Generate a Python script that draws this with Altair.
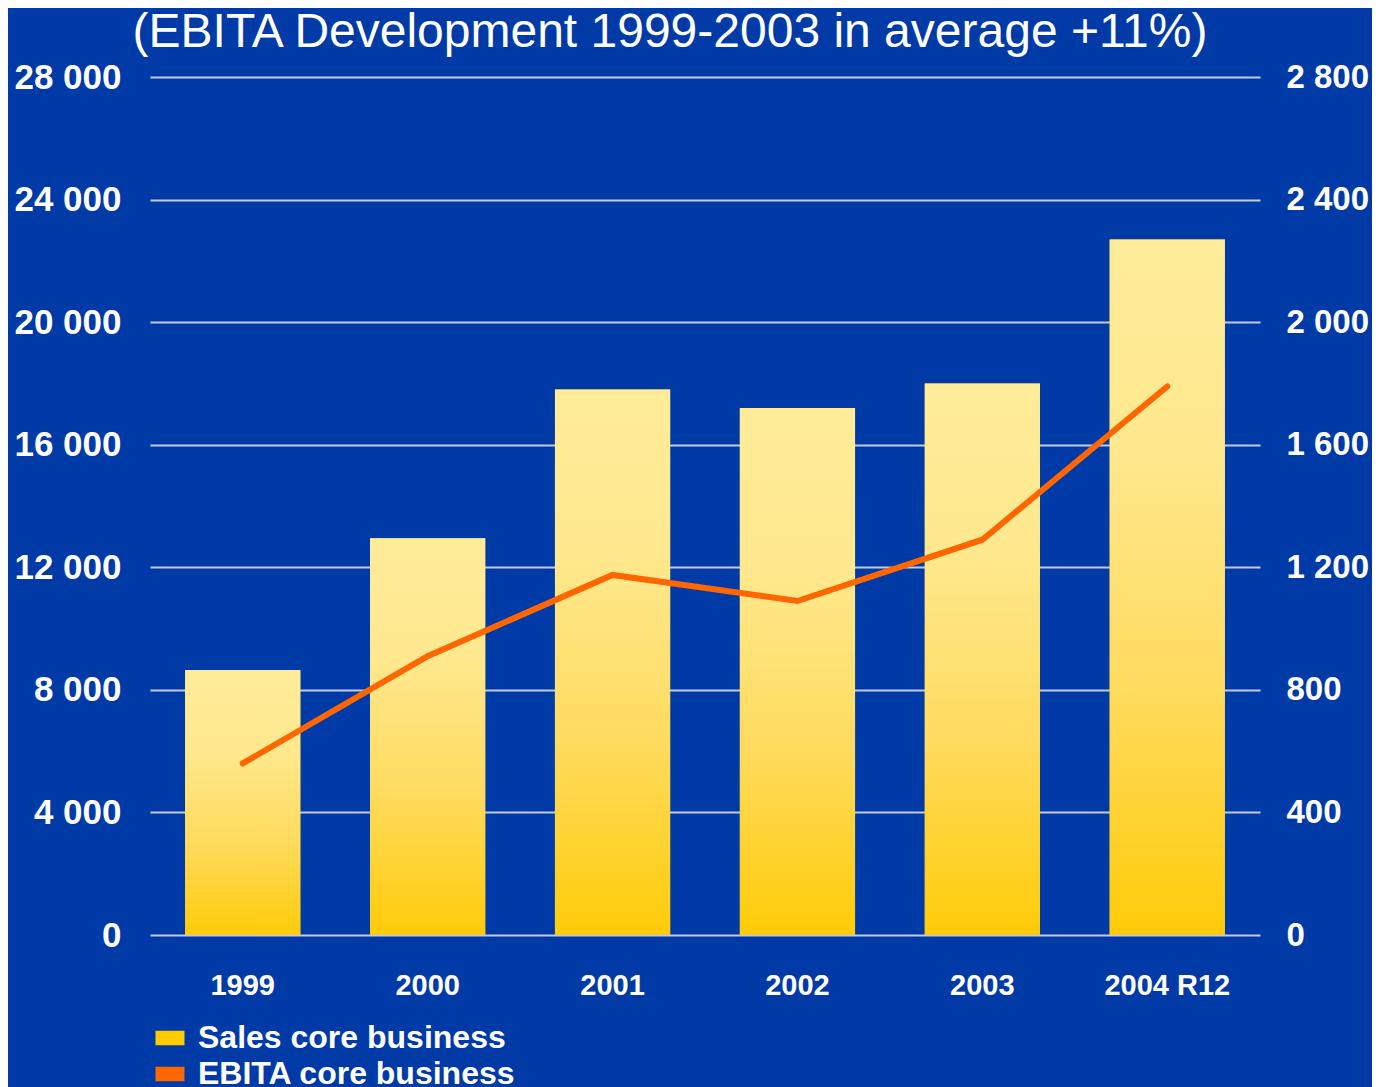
import altair as alt
import pandas as pd

# ---- data ----
years = ["1999", "2000", "2001", "2002", "2003", "2004 R12"]
sales = [8650, 12950, 17800, 17200, 18000, 22700]          # left axis
ebita = [560, 910, 1175, 1090, 1290, 1790]                   # right axis
left_ticks = [0, 4000, 8000, 12000, 16000, 20000, 24000, 28000]
right_ticks = [0, 400, 800, 1200, 1600, 2000, 2400, 2800]
series = ["Sales core business", "EBITA core business"]
series_colors = ["#FFCC00", "#FF6600"]
title_text = "(EBITA Development 1999-2003 in average +11%)"

df = pd.DataFrame({"year": years, "sales": sales, "ebita": ebita,
                   "series": [series[0]] * len(years)})

BG = "#003AA6"
FONT = "Liberation Sans"
space_thousands = "replace(format(datum.value, ','), ',', ' ')"

x_enc = alt.X(
    "year:N", sort=years, title=None,
    scale=alt.Scale(paddingInner=0.377, paddingOuter=0.19),
    axis=alt.Axis(labelAngle=0, labelFont=FONT, labelFontSize=29,
                  labelFontWeight="bold", labelColor="white", labelPadding=36,
                  labelBaseline="top", domain=False, ticks=False, grid=False),
)

y_sales = alt.Y(
    "sales:Q", title=None,
    scale=alt.Scale(domain=[0, 28000], nice=False, zero=True),
    axis=alt.Axis(values=left_ticks, labelExpr=space_thousands, grid=True,
                  gridColor="#C4CADB", gridWidth=2, domain=False, ticks=False,
                  labelFont=FONT, labelFontSize=35, labelFontWeight="bold",
                  labelColor="white", labelPadding=29, orient="left"),
)

bars_solid = alt.Chart(df).mark_bar().encode(
    x=x_enc,
    y=y_sales,
    color=alt.Color(
        "series:N",
        scale=alt.Scale(domain=series, range=series_colors),
        legend=alt.Legend(
            title=None, orient="none", legendX=4, legendY=945,
            direction="vertical", padding=0,
            symbolType="M-1,-0.5H1V0.5H-1Z", symbolSize=841,
            symbolStrokeWidth=0, symbolOpacity=1,
            labelFont=FONT, labelFontSize=32, labelFontWeight="bold",
            labelColor="white", labelOffset=12, labelLimit=1000,
            rowPadding=4,
        ),
    ),
)

gradient = {
    "gradient": "linear", "x1": 0, "y1": 0, "x2": 0, "y2": 1,
    "stops": [
        {"offset": 0, "color": "#FFEC9A"},
        {"offset": 0.3, "color": "#FFE88E"},
        {"offset": 0.65, "color": "#FFDB5E"},
        {"offset": 1, "color": "#FFCB08"},
    ],
}

bars_grad = alt.Chart(df).mark_bar(fill=gradient).encode(x=x_enc, y=y_sales)

line = alt.Chart(df).mark_line(
    color="#FF6600", strokeWidth=6, strokeCap="round", strokeJoin="miter"
).encode(
    x=x_enc,
    y=alt.Y(
        "ebita:Q", title=None,
        scale=alt.Scale(domain=[0, 2800], nice=False, zero=True),
        axis=alt.Axis(values=right_ticks, labelExpr=space_thousands, grid=False,
                      domain=False, ticks=False, orient="right",
                      labelFont=FONT, labelFontSize=33, labelFontWeight="bold",
                      labelColor="white", labelPadding=26),
    ),
)

bars = alt.layer(bars_solid, bars_grad)

chart = alt.layer(bars, line).resolve_scale(y="independent").properties(
    width=1110,
    height=858,
    autosize=alt.AutoSizeParams(type="none"),
    padding={"left": 142, "top": 69, "right": 112, "bottom": 152},
    title=alt.TitleParams(
        text=title_text, font=FONT, fontSize=48, fontWeight="normal",
        color="white", anchor="middle", dx=-35, offset=3,
    ),
).configure(
    background=BG,
).configure_view(
    stroke=None,
)

chart.save("out.html", embed_options={"renderer": "svg", "actions": False})
